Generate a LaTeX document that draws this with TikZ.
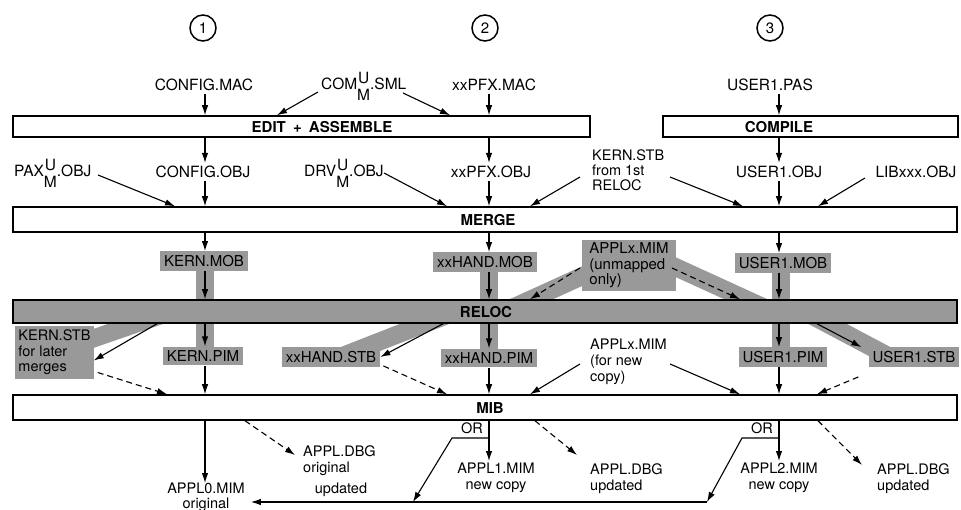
\documentclass[tikz,border=0pt]{standalone}
\usepackage{fontspec}
\setmainfont{TeX Gyre Heros}
\usetikzlibrary{arrows.meta}
\definecolor{grayfill}{gray}{0.6}
\newcommand\umstack{\ooalign{\hfil\raisebox{0.75ex}{U}\hfil\cr\raisebox{-1.3ex}{M}\cr}}
\begin{document}
\begin{tikzpicture}[x=1pt,y=-1pt,
 txt/.style={font=\fontsize{15.5}{16}\selectfont, inner sep=0pt},
 lbltwo/.style={font=\fontsize{14.5}{16}\selectfont, inner sep=0pt, align=left},
 gbox/.style={fill=grayfill, font=\fontsize{15}{15.5}\selectfont, inner xsep=4pt, inner ysep=4pt},
 procbar/.style={draw, line width=1.5pt, inner sep=0pt},
 barlbl/.style={font=\bfseries\fontsize{15}{15}\selectfont, inner sep=0pt},
 arr/.style={-{Latex[length=10pt,width=6.5pt]}, line width=1.1pt},
 dsh/.style={arr, dash pattern=on 6pt off 4pt},
 gband/.style={line width=18pt, grayfill},
 numcirc/.style={draw, circle, line width=1.5pt, minimum size=26pt, inner sep=0pt, font=\fontsize{15}{15}\selectfont}]
\path[use as bounding box] (0,0) rectangle (961,510);
% column x
\coordinate (X1) at (205,0);
\coordinate (X2) at (489,0);
\coordinate (X3) at (779,0);
% shaded bands
\draw[gband] (205,262) -- (205,356);
\draw[gband] (489,262) -- (489,358);
\draw[gband] (781,263) -- (781,357);
\draw[gband] (170,312) -- (60,350);
\draw[gband] (455,312) -- (340,357);
\draw[gband] (600,268) -- (512,308);
\draw[gband] (660,260) -- (765,308);
\draw[gband] (805,312) -- (890,357);
% numbers
\node[numcirc] (n1) at (203,28) {1};
\node[numcirc] (n2) at (485,28) {2};
\node[numcirc] (n3) at (770,28) {3};
% top row
\node[txt] (cfgmac) at (204,85) {CONFIG.MAC};
\node[txt, anchor=base west] (commac) at (321,90) {COM\umstack.SML};
\node[txt] (xxpfxmac) at (494,85) {xxPFX.MAC};
\node[txt] (userpas) at (770,85) {USER1.PAS};
% edit / compile
\node[procbar, minimum width=577pt, minimum height=21pt] (edit) at (301.5,126.5) {};
\node[barlbl] (editlbl) at (322,127) {EDIT\hspace{3pt} + \hspace{3pt}ASSEMBLE};
\node[procbar, minimum width=295pt, minimum height=21pt] (compile) at (810.5,126.5) {};
\node[barlbl] (compilelbl) at (779,127) {COMPILE};
% second row
\node[txt, anchor=base west] (paxobj) at (14,177) {PAX\umstack.OBJ};
\node[txt] (cfgobj) at (203,172) {CONFIG.OBJ};
\node[txt, anchor=base west] (drvobj) at (304,177) {DRV\umstack.OBJ};
\node[txt] (xxpfxobj) at (491,172) {xxPFX.OBJ};
\node[lbltwo, anchor=north west, font=\fontsize{14.5}{15}\selectfont] (kstbone) at (592,149) {KERN.STB\\from 1st\\RELOC};
\node[txt] (userobj) at (779,172) {USER1.OBJ};
\node[txt] (libobj) at (916,172) {LIBxxx.OBJ};
% merge
\node[procbar, minimum width=944pt, minimum height=25pt] (merge) at (485,219.5) {};
\node[barlbl] (mergelbl) at (488,220) {MERGE};
% MOB row
\node[gbox] (kernmob) at (204,261) {KERN.MOB};
\node[gbox] (xxhandmob) at (485,262) {xxHAND.MOB};
\node[gbox, align=left, inner ysep=3pt, inner xsep=7pt] (applxone) at (629,265.5) {APPLx.MIM\\(unmapped\\only)};
\node[gbox] (usermob) at (783,263) {USER1.MOB};
% reloc
\node[procbar, fill=grayfill, minimum width=944pt, minimum height=23pt] (reloc) at (485,311.5) {};
\node[barlbl] (reloclbl) at (486,312) {RELOC};
% PIM row
\node[gbox, align=left, inner xsep=3pt, font=\fontsize{14.5}{15.5}\selectfont] (kstbtwo) at (54.5,352.5) {KERN.STB\\for later\\merges};
\node[gbox] (kernpim) at (203,356) {KERN.PIM};
\node[gbox] (xxhandstb) at (331,357) {xxHAND.STB};
\node[gbox] (xxhandpim) at (489,358) {xxHAND.PIM};
\node[lbltwo, anchor=north west] (applxtwo) at (590,339) {APPLx.MIM\\(for new\\copy)};
\node[gbox] (userpim) at (783,357) {USER1.PIM};
\node[gbox] (userstb) at (914,357) {USER1.STB};
% MIB
\node[procbar, minimum width=944pt, minimum height=25pt] (mib) at (485,407.5) {};
\node[barlbl] (miblbl) at (490,408) {MIB};
% bottom
\node[lbltwo, align=center, anchor=north, font=\fontsize{14.5}{15}\selectfont] (applzero) at (206,483) {APPL0.MIM\\original};
\node[lbltwo, anchor=north west] (dbgzero) at (303,445) {APPL.DBG\\original};
\node[lbltwo] (upd) at (341,490) {updated};
\node[lbltwo] (orone) at (472,428) {OR};
\node[lbltwo, align=center, anchor=north] (applone) at (496,463) {APPL1.MIM\\new copy};
\node[lbltwo, anchor=north west] (dbgone) at (590,463) {APPL.DBG\\updated};
\node[lbltwo] (ortwo) at (762,428) {OR};
\node[lbltwo, align=center, anchor=north] (appltwo) at (779,463) {APPL2.MIM\\new copy};
\node[lbltwo, anchor=north west] (dbgtwo) at (877,463) {APPL.DBG\\updated};

% ---- connectors ----
% top
\draw[arr, shorten <=3pt] (cfgmac.south -| X1) -- (edit.north -| X1);
\coordinate (cA) at (318,92);
\coordinate (cB) at (403,93);
\coordinate (eA) at (277,0);
\coordinate (eB) at (450,0);
\draw[arr] (cA) -- (edit.north -| eA);
\draw[arr] (cB) -- (edit.north -| eB);
\draw[arr, shorten <=3pt] (xxpfxmac.south -| X2) -- (edit.north -| X2);
\draw[arr, shorten <=3pt] (userpas.south -| X3) -- (compile.north -| X3);
% second row
\draw[arr, shorten >=3pt] (edit.south -| X1) -- (cfgobj.north -| X1);
\draw[arr, shorten <=3pt] (cfgobj.south -| X1) -- (merge.north -| X1);
\draw[arr, shorten >=3pt] (edit.south -| X2) -- (xxpfxobj.north -| X2);
\draw[arr, shorten <=3pt] (xxpfxobj.south -| X2) -- (merge.north -| X2);
\draw[arr, shorten >=3pt] (compile.south -| X3) -- (userobj.north -| X3);
\draw[arr, shorten <=3pt] (userobj.south -| X3) -- (merge.north -| X3);
\coordinate (pA) at (98,175);
\coordinate (pB) at (175,0);
\draw[arr] (pA) -- (merge.north -| pB);
\coordinate (dA) at (384,173);
\coordinate (dB) at (447,0);
\draw[arr] (dA) -- (merge.north -| dB);
\coordinate (kA) at (580,177);
\coordinate (kB) at (530,0);
\draw[arr] (kA) -- (merge.north -| kB);
\coordinate (kC) at (670,177);
\coordinate (kD) at (743,0);
\draw[arr] (kC) -- (merge.north -| kD);
\coordinate (lA) at (865,178);
\coordinate (lB) at (818,0);
\draw[arr] (lA) -- (merge.north -| lB);
% merge -> MOB
\draw[arr] (merge.south -| X1) -- (kernmob.north -| X1);
\draw[arr] (merge.south -| X2) -- (xxhandmob.north -| X2);
\draw[arr] (merge.south -| X3) -- (usermob.north -| X3);
% MOB -> reloc
\draw[arr] (kernmob.south -| X1) -- (reloc.north -| X1);
\draw[arr] (xxhandmob.south -| X2) -- (reloc.north -| X2);
\draw[arr] (usermob.south -| X3) -- (reloc.north -| X3);
\coordinate (uA) at (580,268);
\coordinate (uB) at (530,0);
\draw[dsh] (uA) -- (reloc.north -| uB);
\coordinate (uC) at (672,268);
\coordinate (uD) at (740,0);
\draw[dsh] (uC) -- (reloc.north -| uD);
% reloc -> PIM row
\draw[arr] (reloc.south -| X1) -- (kernpim.north -| X1);
\draw[arr] (reloc.south -| X2) -- (xxhandpim.north -| X2);
\draw[arr] (reloc.south -| X3) -- (userpim.north -| X3);
\coordinate (rA) at (157,0);
\draw[arr] (reloc.south -| rA) -- ([yshift=-8pt]kstbtwo.east);
\coordinate (rB) at (443,0);
\draw[arr] (reloc.south -| rB) -- (xxhandstb.east);
\coordinate (rC) at (817,0);
\draw[arr] (reloc.south -| rC) -- ([xshift=-7pt]userstb.north west);
% PIM row -> MIB
\coordinate (mA) at (167,0);
\draw[dsh] ([shift={(4,20)}]kstbtwo.east) -- (mib.north -| mA);
\draw[arr] (kernpim.south -| X1) -- (mib.north -| X1);
\coordinate (mB) at (447,0);
\draw[dsh] ([shift={(3,-1)}]xxhandstb.south east) -- (mib.north -| mB);
\draw[arr] (xxhandpim.south -| X2) -- (mib.north -| X2);
\coordinate (aA) at (580,364);
\coordinate (aB) at (530,0);
\draw[arr] (aA) -- (mib.north -| aB);
\coordinate (aC) at (670,364);
\coordinate (aD) at (740,0);
\draw[arr] (aC) -- (mib.north -| aD);
\draw[arr] (userpim.south -| X3) -- (mib.north -| X3);
\coordinate (mC) at (817,0);
\draw[dsh] ([shift={(-10,10)}]userstb.south west) -- (mib.north -| mC);
% MIB -> outputs
\draw[arr] (mib.south -| X1) -- (applzero.north -| X1);
\coordinate (bA) at (245,0);
\draw[dsh] (mib.south -| bA) -- ([shift={(-8,10)}]dbgzero.north west);
\draw[arr, shorten >=2pt] (mib.south -| X2) -- (applone.north -| X2);
\coordinate (bB) at (535,0);
\draw[dsh] (mib.south -| bB) -- ([shift={(-13,-8)}]dbgone.north west);
\draw[arr, shorten >=2pt] (mib.south -| X3) -- (appltwo.north -| X3);
\coordinate (bC) at (818,0);
\draw[dsh] (mib.south -| bC) -- ([shift={(-15,2)}]dbgtwo.north west);
% OR branches
\coordinate (obone) at (452,438);
\coordinate (otone) at (413,502);
\coordinate (obtwo) at (742,438);
\coordinate (ottwo) at (707,502);
\draw[line width=1.1pt] (ottwo) -- (otone);
\draw[arr] (otone) -- ([xshift=6pt]applzero.east |- otone);
\draw[arr] (obone -| X2) -- (obone) -- (otone);
\draw[arr] (obtwo -| X3) -- (obtwo) -- (ottwo);
\end{tikzpicture}
\end{document}
